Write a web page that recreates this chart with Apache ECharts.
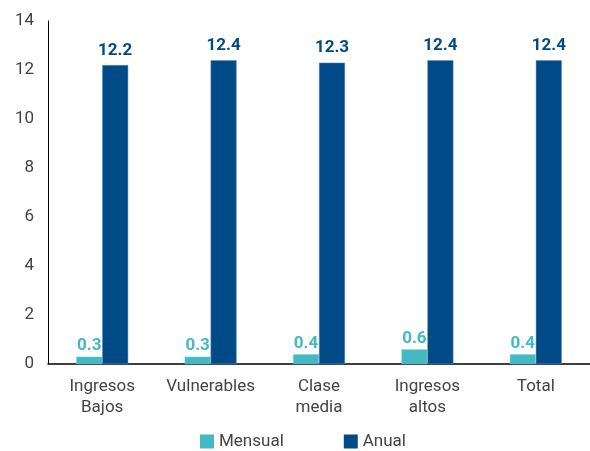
<!DOCTYPE html>
<html>
<head>
<meta charset="utf-8">
<script src="https://cdn.jsdelivr.net/npm/echarts@6/dist/echarts.min.js"></script>
<style>
  html, body { margin: 0; padding: 0; background: #fff; }
  #chart { width: 590px; height: 451px; }
</style>
</head>
<body>
<div id="chart"></div>
<script>
const categories = ['Ingresos\nBajos', 'Vulnerables', 'Clase\nmedia', 'Ingresos\naltos', 'Total']
const mensual = [0.3, 0.3, 0.4, 0.6, 0.4]
const anual = [12.2, 12.4, 12.3, 12.4, 12.4]

const teal = '#42B9C3'
const navy = '#004B87'
const font = 'Roboto'

const myChart = echarts.init(document.getElementById('chart'))
let option = {
  animation: false,
  textStyle: { fontFamily: font },
  grid: { left: 48, width: 547, top: 21, bottom: 87 },
  legend: {
    bottom: -4,
    left: 195,
    itemGap: 60,
    icon: 'rect',
    itemWidth: 14,
    itemHeight: 14,
    itemStyle: { borderWidth: 0 },
    textStyle: { color: '#444', fontSize: 17, fontFamily: font }
  },
  xAxis: {
    type: 'category',
    data: categories,
    axisLine: { lineStyle: { color: '#000', width: 1.5 } },
    axisTick: { show: false },
    axisLabel: { interval: 0, hideOverlap: false, color: '#444', fontSize: 17, lineHeight: 21, margin: 12, fontFamily: font }
  },
  yAxis: {
    type: 'value',
    min: 0,
    max: 14,
    interval: 2,
    axisLine: { show: true, lineStyle: { color: '#000', width: 1 } },
    axisTick: { show: false },
    splitLine: { show: false },
    axisLabel: { color: '#444', fontSize: 17, margin: 14, fontFamily: font }
  },
  series: [
    {
      name: 'Mensual',
      type: 'bar',
      data: mensual,
      barWidth: 26,
      barGap: '0%',
      itemStyle: { color: teal, borderColor: '#8fd6dc', borderWidth: 0.5 },
      label: { show: true, position: 'top', distance: 2, color: teal, fontSize: 17, fontWeight: 'bold', fontFamily: font }
    },
    {
      name: 'Anual',
      type: 'bar',
      data: anual,
      barWidth: 26,
      itemStyle: { color: navy, borderColor: '#5f8fbf', borderWidth: 0.5 },
      label: { show: true, position: 'top', distance: 6, color: navy, fontSize: 17, fontWeight: 'bold', fontFamily: font }
    }
  ]
}
option && myChart.setOption(option)
</script>
</body>
</html>
